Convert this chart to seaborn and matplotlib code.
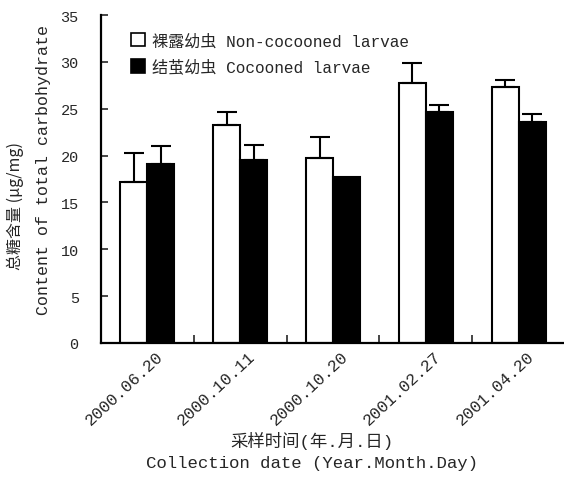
import pandas as pd
import matplotlib.pyplot as plt
import matplotlib.transforms as mtransforms
import seaborn as sns
from matplotlib.patches import Patch

# data
dates = ['2000.06.20', '2000.10.11', '2000.10.20', '2001.02.27', '2001.04.20']
non_cocooned = [17.2, 23.3, 19.7, 27.7, 27.3]
non_cocooned_err = [3.1, 1.3, 2.3, 2.2, 0.8]
cocooned = [19.1, 19.5, 17.7, 24.6, 23.6]
cocooned_err = [1.9, 1.6, 0.0, 0.8, 0.8]

groups = ['裸露幼虫 Non-cocooned larvae', '结茧幼虫 Cocooned larvae']

df = pd.DataFrame({
    'date': dates * 2,
    'value': non_cocooned + cocooned,
    'group': [groups[0]] * len(dates) + [groups[1]] * len(dates),
})

sns.set_theme(style='white')
plt.rcParams['font.family'] = ['Liberation Mono', 'Noto Sans CJK SC']
plt.rcParams['font.size'] = 11

fig = plt.figure(figsize=(5.64, 4.85), dpi=100)
ax = fig.add_axes([0.179, 0.291, 0.823, 0.676])

sns.barplot(data=df, x='date', y='value', hue='group', order=dates,
            hue_order=groups, palette=['white', 'black'], width=0.58,
            edgecolor='black', linewidth=1.5, errorbar=None, legend=False, ax=ax)

# upward error bars, positioned on the drawn bars
bars = [p for p in ax.patches if p.get_height() > 0]
errs = non_cocooned_err + cocooned_err
for bar, e in zip(bars, errs):
    if e <= 0:
        continue
    xc = bar.get_x() + bar.get_width() / 2
    top = bar.get_height()
    ax.errorbar([xc], [top], yerr=[[0], [e]], fmt='none', ecolor='black',
                elinewidth=1.5, capsize=7, capthick=1.5)

ax.set_xlim(-0.5, 4.5)
ax.set_ylim(0, 35)
ax.set_yticks(range(0, 36, 5))
ax.set_xticks(range(len(dates)))
ax.set_xticks([i + 0.5 for i in range(len(dates) - 1)], minor=True)
ax.tick_params(axis='x', which='major', length=0, pad=4)
ax.tick_params(axis='x', which='minor', direction='in', length=6, width=1.2,
               bottom=True)
ax.tick_params(axis='y', direction='in', length=5, width=1.2, left=True,
               labelsize=11, pad=16)
ax.set_xticklabels(dates, rotation=43, ha='right', rotation_mode='anchor',
                   fontsize=12)
shift = mtransforms.ScaledTranslation(8 / 100, 0, fig.dpi_scale_trans)
for lab in ax.get_xticklabels():
    lab.set_transform(lab.get_transform() + shift)

for s in ['top', 'right']:
    ax.spines[s].set_visible(False)
for s in ['left', 'bottom']:
    ax.spines[s].set_color('black')
    ax.spines[s].set_linewidth(1.6)

ax.set_xlabel('采样时间(年.月.日)\nCollection date (Year.Month.Day)', fontsize=12.5,
              labelpad=8, linespacing=1.5)
ax.xaxis.set_label_coords(0.455, -0.27, transform=ax.transAxes)
ax.xaxis.label.set_va('top')

ax.set_ylabel('Content of total carbohydrate', fontsize=12, labelpad=6)
ax.yaxis.set_label_coords(-0.108, 0.53)
fig.text(0.027, 0.575, '总糖含量 (μg/mg)', rotation=90, ha='center', va='center',
         fontsize=11.5, family=['Noto Sans CJK SC', 'DejaVu Sans'])

handles = [Patch(facecolor='white', edgecolor='black', linewidth=1.2),
           Patch(facecolor='black', edgecolor='black', linewidth=1.2)]
ax.legend(handles, groups, loc='upper left', bbox_to_anchor=(0.033, 0.99),
          frameon=False, fontsize=11.6, handlelength=0.9, handleheight=0.9,
          handletextpad=0.4, labelspacing=0.65)

fig.savefig('out.png', dpi=100, facecolor='white')
